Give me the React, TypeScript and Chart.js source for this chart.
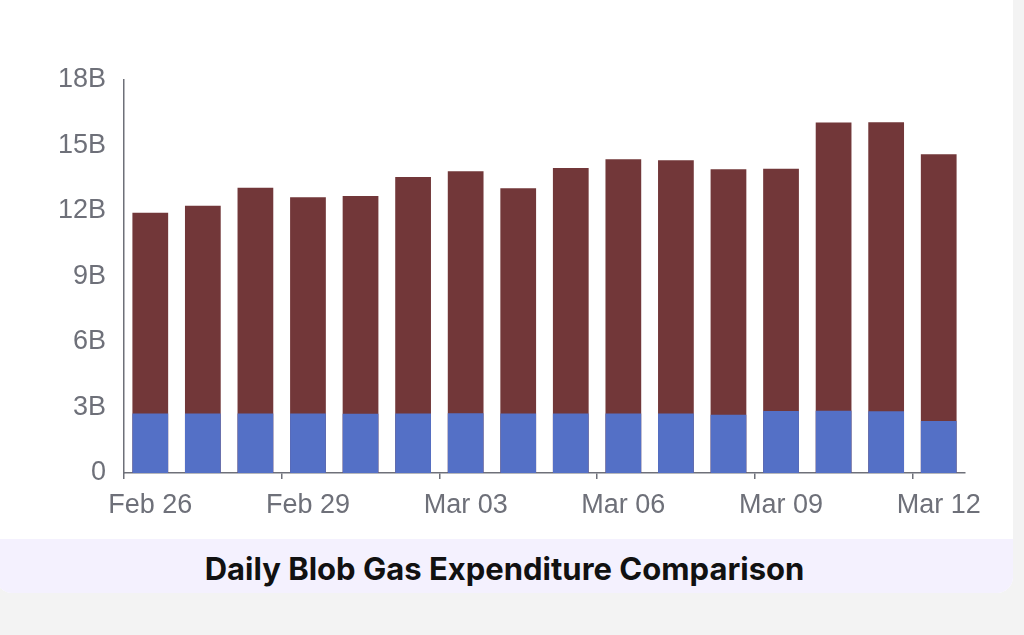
import { useEffect, useRef } from 'react';
import { Chart, registerables } from 'chart.js';
Chart.register(...registerables);

const days = [
  'Feb 26', 'Feb 27', 'Feb 28', 'Feb 29', 'Mar 01', 'Mar 02', 'Mar 03', 'Mar 04',
  'Mar 05', 'Mar 06', 'Mar 07', 'Mar 08', 'Mar 09', 'Mar 10', 'Mar 11', 'Mar 12',
];
// blob gas spend (lower, blue) and calldata-equivalent spend (total height, maroon)
const blobGas = [2.73, 2.72, 2.73, 2.72, 2.71, 2.72, 2.74, 2.72, 2.72, 2.73, 2.72, 2.67, 2.84, 2.85, 2.83, 2.38].map(v => v * 1e9);
const calldataGas = [11.92, 12.24, 13.06, 12.63, 12.69, 13.56, 13.82, 13.04, 13.97, 14.37, 14.32, 13.91, 13.94, 16.05, 16.06, 14.6].map(v => v * 1e9);
const yTicks = [0, 3e9, 6e9, 9e9, 12e9, 15e9, 18e9];

const axisColor = '#6e7079';
const tickFont = { size: 27, family: 'Liberation Sans, Arial, sans-serif' };

function BlobGasChart() {
  const canvasRef = useRef<HTMLCanvasElement>(null);
  const chartRef = useRef<Chart | null>(null);

  useEffect(() => {
    if (!canvasRef.current) return;
    if (chartRef.current) chartRef.current.destroy();

    chartRef.current = new Chart(canvasRef.current, {
      type: 'bar',
      data: {
        labels: days,
        datasets: [
          {
            label: 'Blob Gas',
            data: blobGas,
            backgroundColor: '#5470c6',
            categoryPercentage: 1,
            barPercentage: 0.68,
          },
          {
            label: 'Calldata Gas',
            data: calldataGas,
            backgroundColor: '#723739',
            categoryPercentage: 1,
            barPercentage: 0.68,
          },
        ],
      },
      options: {
        responsive: true,
        maintainAspectRatio: false,
        animation: false,
        layout: { padding: { top: 96, right: 48, left: 0, bottom: 0 } },
        plugins: { legend: { display: false }, tooltip: { enabled: false } },
        scales: {
          x: {
            stacked: true,
            afterFit: (s: any) => { s.height = 66; },
            grid: {
              offset: true,
              drawOnChartArea: false,
              tickLength: 6,
              lineWidth: 1.5,
              color: (c: any) => (c.index % 3 === 0 || c.index === days.length ? axisColor : 'rgba(0,0,0,0)'),
            },
            border: { color: axisColor, width: 1.5 },
            ticks: {
              autoSkip: false,
              maxRotation: 0,
              padding: 10,
              color: axisColor,
              font: tickFont,
              callback: (_v: any, i: number) => (i % 3 === 0 ? days[i] : ''),
            },
          },
          y: {
            stacked: false,
            min: 0,
            max: 18e9,
            afterFit: (s: any) => { s.width = 128; },
            afterBuildTicks: (s: any) => { s.ticks = yTicks.map(v => ({ value: v })); },
            grid: { display: false },
            border: { color: axisColor, width: 1.5 },
            ticks: {
              padding: 10,
              color: axisColor,
              font: tickFont,
              callback: (v: number | string) => (Number(v) === 0 ? '0' : Number(v) / 1e9 + 'B'),
            },
          },
        },
      },
    });

    return () => { chartRef.current?.destroy(); };
  }, []);

  return (
    <div style={{ position: 'relative', height: 555, width: '100%' }}>
      <canvas ref={canvasRef} role="img" aria-label="Daily blob gas expenditure comparison" />
    </div>
  );
}

export default function App() {
  return (
    <div style={{ position: 'fixed', inset: 0, background: '#f3f3f3', overflow: 'hidden' }}>
      <div
        style={{
          position: 'absolute', left: -4, top: -16, width: 1017, height: 609,
          background: '#fff', borderRadius: 16, overflow: 'hidden',
        }}
      >
        <BlobGasChart />
        <div
          style={{
            height: 54, boxSizing: 'border-box', paddingTop: 4, background: '#f4f1fe',
            display: 'flex', alignItems: 'center', justifyContent: 'center',
            fontFamily: 'Inter, sans-serif', fontWeight: 700, fontSize: 31, color: '#111',
          }}
        >
          Daily Blob Gas Expenditure Comparison
        </div>
      </div>
    </div>
  );
}
